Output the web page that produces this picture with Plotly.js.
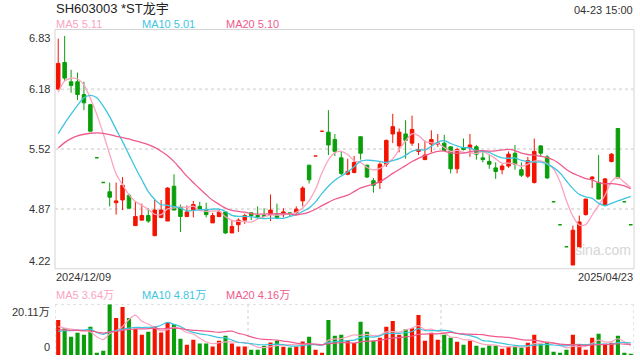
<!DOCTYPE html>
<html><head><meta charset="utf-8">
<script src="https://cdn.plot.ly/plotly-3.0.1.min.js"></script>
<style>html,body{margin:0;padding:0;background:#fff;}#chart{width:640px;height:360px;}</style>
</head><body><div id="chart"></div>
<script>
const symbolTitle = 'SH603003 *ST龙宇';
const timeStamp = '04-23 15:00';
const dateLabels = ['2024/12/09', '2025/04/23'];

const openP = [6.18,6.47,6.26,6.26,6.12,6.01,5.43,5.16,5.06,4.94, 4.97,5.02,4.69,4.75,4.80,4.58,4.78,4.74,5.12,4.89, 4.79,4.86,4.90,4.86,4.72,4.79,4.84,4.61,4.70,4.75, 4.83,4.80,4.80,4.81,4.81,4.81,4.83,4.83,4.96,5.35, 5.45,5.72,5.71,5.63,5.43,5.25,5.27,5.66,5.35,5.18, 5.16,5.36,5.69,5.56,5.69,5.59,5.50,5.41,5.58,5.58, 5.59,5.55,5.31,5.54,5.54,5.55,5.43,5.39,5.32,5.30, 5.34,5.48,5.30,5.23,5.16,5.56,5.44,4.95,4.70,4.46, 4.26,4.45,4.81,5.20,5.16,4.91,5.39,5.75,4.95,4.70];
const highP = [6.73,6.76,6.39,6.36,6.26,6.02,5.43,5.16,5.16,5.16, 5.22,5.04,4.95,4.93,4.88,4.97,4.97,5.11,5.25,4.92, 4.91,4.96,4.95,4.94,4.83,4.86,4.84,4.75,4.77,4.82, 4.83,4.90,4.88,5.03,4.93,4.88,4.83,4.90,5.12,5.35, 5.45,5.72,5.95,5.69,5.50,5.42,5.45,5.66,5.35,5.21, 5.38,5.63,5.91,5.75,5.84,5.89,5.59,5.62,5.73,5.69, 5.68,5.55,5.54,5.64,5.69,5.57,5.49,5.46,5.38,5.36, 5.50,5.57,5.38,5.44,5.64,5.57,5.46,4.95,4.70,4.46, 4.69,4.80,4.98,5.23,5.46,5.21,5.48,5.75,4.95,4.70];
const lowP = [6.17,6.27,6.14,6.06,5.95,5.72,5.43,5.16,4.90,4.81, 4.86,4.88,4.69,4.75,4.72,4.58,4.77,4.74,4.86,4.62, 4.78,4.78,4.86,4.78,4.72,4.78,4.60,4.61,4.62,4.71, 4.75,4.76,4.79,4.74,4.76,4.78,4.79,4.82,4.90,5.15, 5.45,5.72,5.46,5.45,5.24,5.24,5.26,5.41,5.21,5.05, 5.09,5.33,5.59,5.49,5.42,5.56,5.46,5.41,5.49,5.55, 5.50,5.26,5.26,5.51,5.44,5.41,5.38,5.31,5.20,5.25, 5.32,5.30,5.22,5.21,5.15,5.45,5.20,4.95,4.70,4.46, 4.26,4.45,4.80,5.10,4.98,4.91,5.38,5.21,4.95,4.70];
const closeP = [6.46,6.30,6.22,6.12,6.03,5.72,5.43,5.16,5.00,4.96, 5.13,4.88,4.79,4.80,4.74,4.86,4.86,5.10,4.86,4.79, 4.84,4.92,4.87,4.81,4.80,4.84,4.61,4.68,4.75,4.80, 4.80,4.79,4.79,4.86,4.78,4.84,4.82,4.87,5.10,5.19, 5.45,5.72,5.57,5.50,5.26,5.28,5.38,5.48,5.22,5.13, 5.36,5.62,5.77,5.71,5.62,5.74,5.52,5.46,5.63,5.59, 5.51,5.31,5.52,5.52,5.57,5.47,5.41,5.36,5.28,5.34, 5.47,5.36,5.24,5.40,5.50,5.48,5.21,4.95,4.70,4.46, 4.64,4.73,4.98,5.22,4.98,5.20,5.47,5.21,4.95,4.70];
// volume in 万
const volume = [13.93,10.64,7.23,8.80,8.02,11.17,0.92,1.71,20.11,14.72, 19.05,14.72,10.38,8.02,9.20,11.30,8.94,13.01,12.22,6.44, 4.07,6.04,4.60,4.60,3.42,5.65,7.62,4.60,3.42,3.42, 2.10,2.10,3.68,4.99,5.65,3.29,3.02,3.42,5.39,7.23, 2.10,0.92,13.93,7.62,8.02,5.65,4.73,13.14,9.20,5.65, 6.83,11.17,13.53,8.02,10.25,10.64,15.90,5.65,8.80,6.04, 8.02,6.83,5.26,4.07,5.65,3.68,2.89,3.81,3.68,2.50, 3.29,3.29,3.02,4.86,8.02,4.47,5.26,1.31,0.92,2.10, 8.02,4.07,2.10,6.83,8.41,4.47,4.86,7.62,0.92,0.53];
// sessions before the visible window (read back from the MA curves at the left edge)
const closeBefore = [5.10,5.34,5.54,5.66,5.50,5.36,5.24,5.28,5.34,5.41,5.18,5.22,5.16,5.19,5.46,5.69,6.07,6.16,6.35];
const volumeBefore = [10.5,11.0,10.2,10.8,11.5,10.0,10.9,10.4,10.6,10.8,7.5,7.0,7.6,7.2,7.5,13.9,9.2,10.0,9.4];

const priceTicks = [4.22, 4.8725, 5.525, 6.1775, 6.83];
const priceTickText = ['4.22','4.87','5.52','6.18','6.83'];
const volMax = 20.11;
const volTickText = ['0', '20.11万'];
const maPeriods = [5, 10, 20];
const maNames = ['MA5', 'MA10', 'MA20'];
const priceMALabels = ['5.11', '5.01', '5.10'];
const volMALabels = ['3.64万', '4.81万', '4.16万'];

const UP = '#f31400', DOWN = '#0a9e0a';
const maColors = ['#fba4bf', '#3ec5df', '#ef5b8e'];
const FONT = "Arial, 'Liberation Sans', 'Noto Sans CJK SC', sans-serif";

const N = closeP.length;
const idx = closeP.map((_, i) => i);

function movingAvg(before, data, n) {
  const all = before.concat(data), off = before.length;
  return data.map((_, i) => {
    let s = 0;
    for (let k = off + i - n + 1; k <= off + i; k++) s += all[k];
    return s / n;
  });
}

// direction of each session (flat sessions compare with previous close)
const dirUp = [];
let prevC = closeBefore[closeBefore.length - 1];
for (let i = 0; i < N; i++) {
  let up;
  if (closeP[i] > openP[i]) up = true;
  else if (closeP[i] < openP[i]) up = false;
  else up = closeP[i] >= prevC;
  dirUp.push(up);
  prevC = closeP[i];
}
const isFlat = idx.map(i => highP[i] === lowP[i]);

const T = 29, B = 5, H = 360, W = 640, L = 55, R = 6;
const plotH = H - T - B, plotW = W - L - R;
const py = p => (H - B - p) / plotH;
const px = p => (p - L) / plotW;
const priceDom = [py(268.7), py(29.5)];
const volDom = [0, py(304.3)];

function candleTrace(sel, col, w) {
  const ii = idx.filter(sel);
  const c = col ? {inc: col, dec: col} : {inc: UP, dec: DOWN};
  return {
    type: 'candlestick', x: ii, open: ii.map(i => openP[i]), high: ii.map(i => highP[i]),
    low: ii.map(i => lowP[i]), close: ii.map(i => closeP[i]),
    xaxis: 'x', yaxis: 'y', whiskerwidth: 0,
    increasing: {line: {color: c.inc, width: w}, fillcolor: c.inc},
    decreasing: {line: {color: c.dec, width: w}, fillcolor: c.dec},
    hoverinfo: 'skip', showlegend: false
  };
}

const traces = [];
traces.push(candleTrace(i => !isFlat[i], null, 1));
traces.push(candleTrace(i => isFlat[i] && dirUp[i], UP, 1.6));
traces.push(candleTrace(i => isFlat[i] && !dirUp[i], DOWN, 1.6));
maPeriods.forEach((n, k) => {
  traces.push({
    type: 'scatter', mode: 'lines', x: idx, y: movingAvg(closeBefore, closeP, n),
    xaxis: 'x', yaxis: 'y', line: {color: maColors[k], width: 1.3, shape: 'spline', smoothing: 0.8},
    hoverinfo: 'skip', showlegend: false
  });
});
traces.push({
  type: 'bar', x: idx, y: volume, xaxis: 'x', yaxis: 'y2',
  marker: {color: dirUp.map(u => u ? UP : DOWN), line: {width: 0}},
  hoverinfo: 'skip', showlegend: false
});
maPeriods.forEach((n, k) => {
  traces.push({
    type: 'scatter', mode: 'lines', x: idx, y: movingAvg(volumeBefore, volume, n),
    xaxis: 'x', yaxis: 'y2', line: {color: maColors[k], width: 1.2, shape: 'spline', smoothing: 0.8},
    hoverinfo: 'skip', showlegend: false
  });
});

const shapes = [];
shapes.push({type: 'rect', xref: 'paper', yref: 'paper', x0: 0, x1: 1, y0: priceDom[0], y1: priceDom[1],
  line: {color: '#d4d4d4', width: 1}, layer: 'below'});
priceTicks.slice(1, 4).forEach(v => shapes.push({type: 'line', xref: 'paper', yref: 'y', x0: 0, x1: 1, y0: v, y1: v,
  line: {color: '#e2e2e2', width: 2, dash: 'dot'}, layer: 'below'}));
shapes.push({type: 'line', xref: 'paper', yref: 'y2', x0: 0, x1: 1, y0: volMax, y1: volMax,
  line: {color: '#cfcfcf', width: 1, dash: 'dot'}, layer: 'below'});
[-0.5, 29.5, 59.5, 89.5].forEach(v => shapes.push({type: 'line', xref: 'x', yref: 'y2', x0: v, x1: v, y0: 0, y1: volMax,
  line: {color: '#cfcfcf', width: 1, dash: 'dot'}, layer: 'below'}));

const ann = [];
const txt = (text, x, y, opts) => Object.assign({text, x, y, xref: 'paper', yref: 'paper', showarrow: false,
  xanchor: 'left', yanchor: 'middle', font: {family: FONT, size: 11, color: '#333'}}, opts || {});
ann.push(txt(symbolTitle, px(54), py(9), {font: {family: FONT, size: 13, color: '#222'}}));
ann.push(txt(timeStamp, px(635), py(10), {xanchor: 'right', font: {family: FONT, size: 11, color: '#333'}}));
const legX = [55, 140.5, 225];
maNames.forEach((nm, k) => {
  ann.push(txt(nm + ' ' + priceMALabels[k], px(legX[k] - 1), py(24), {font: {family: FONT, size: 11, color: maColors[k]}}));
  ann.push(txt(nm + ' ' + volMALabels[k], px(legX[k] - 1), py(295), {font: {family: FONT, size: 11, color: maColors[k]}}));
});
priceTicks.forEach((v, k) => {
  ann.push(txt(priceTickText[k], px(52), v, {yref: 'y', xanchor: 'right',
    yanchor: k === 0 ? 'bottom' : (k === priceTicks.length - 1 ? 'top' : 'middle'),
    font: {family: FONT, size: 11, color: '#333'}}));
});
ann.push(txt(volTickText[1], px(52), volMax, {yref: 'y2', xanchor: 'right', yanchor: 'top'}));
ann.push(txt(volTickText[0], px(52), 0, {yref: 'y2', xanchor: 'right', yanchor: 'bottom'}));
ann.push(txt(dateLabels[0], px(54), py(277), {}));
ann.push(txt(dateLabels[1], px(635), py(277), {xanchor: 'right'}));
ann.push(txt('sina.com', px(603), py(250), {xanchor: 'center', font: {family: FONT, size: 14, color: '#d6d6d6'}}));

const layout = {
  width: W, height: H, margin: {l: L, r: R, t: T, b: B, pad: 0},
  paper_bgcolor: '#fff', plot_bgcolor: 'rgba(0,0,0,0)',
  showlegend: false, hovermode: false, dragmode: false,
  boxmode: 'overlay', boxgap: 0.22, bargap: 0.36,
  xaxis: {domain: [0, 1], range: [-0.5, N - 0.5], anchor: 'y2', showticklabels: false, showgrid: false,
    zeroline: false, showline: false, ticks: '', rangeslider: {visible: false}, fixedrange: true},
  yaxis: {domain: priceDom, range: [priceTicks[0], priceTicks[4]], showticklabels: false, showgrid: false,
    zeroline: false, showline: false, ticks: '', fixedrange: true},
  yaxis2: {domain: volDom, range: [0, volMax], showticklabels: false, showgrid: false,
    zeroline: false, showline: false, ticks: '', fixedrange: true},
  shapes: shapes, annotations: ann
};
Plotly.newPlot('chart', traces, layout, {displayModeBar: false, staticPlot: true});
</script>
</body></html>
